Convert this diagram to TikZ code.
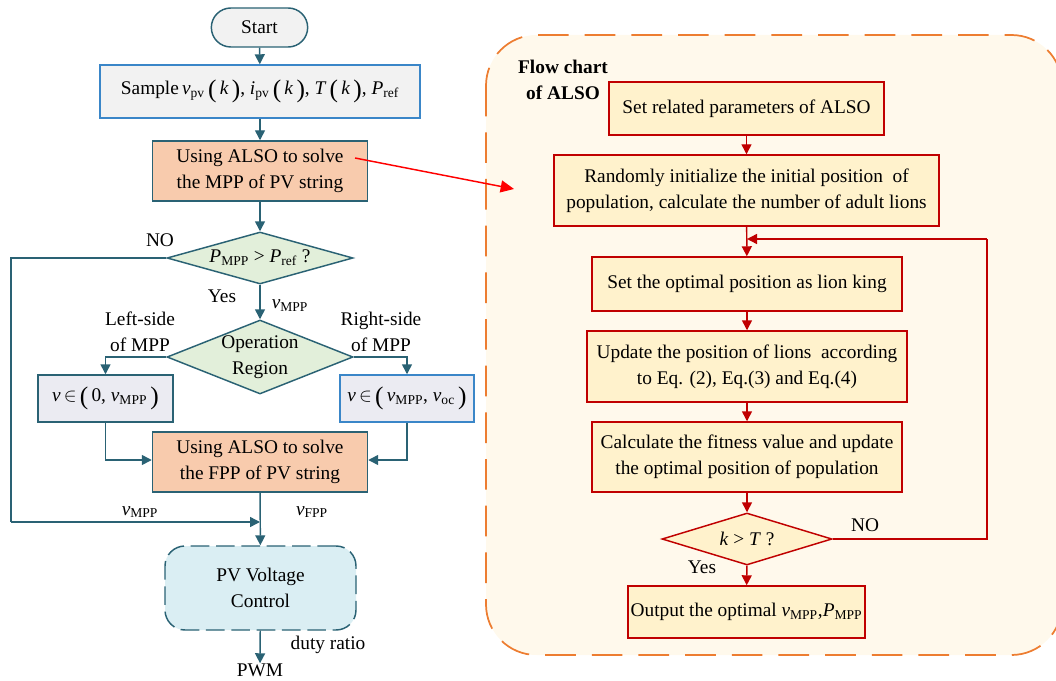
\documentclass[tikz,border=0pt]{standalone}
\usepackage{fontspec}
\setmainfont{Liberation Serif}
\usetikzlibrary{shapes.geometric,shapes.misc,arrows.meta}
\definecolor{teal1}{HTML}{2A6274}
\definecolor{blue1}{HTML}{3A86C8}
\definecolor{gray1}{HTML}{F2F2F2}
\definecolor{orange1}{HTML}{F8CBAD}
\definecolor{green1}{HTML}{E2EFDA}
\definecolor{lav1}{HTML}{EBEBF2}
\definecolor{cyan1}{HTML}{DAEEF3}
\definecolor{red1}{HTML}{C00000}
\definecolor{yel1}{HTML}{FFF2CC}
\definecolor{cream1}{HTML}{FFF9EC}
\definecolor{org2}{HTML}{ED7D31}
\newcommand{\vs}[2]{\textit{#1}\textsubscript{#2}}
\newcommand{\bigpar}[1]{\raisebox{-2.2pt}{\fontsize{19}{19}\selectfont(}\,#1\,\raisebox{-2.2pt}{\fontsize{19}{19}\selectfont)}}
\tikzset{
  every node/.style={font=\fontsize{14.5}{19.5}\selectfont, align=center},
  tbox/.style={draw=teal1, line width=1.1pt, inner sep=1pt},
  rbox/.style={draw=red1, fill=yel1, line width=1.1pt, inner sep=1pt},
  tarr/.style={draw=teal1, line width=1.1pt, -{Triangle[length=7.5pt,width=7.5pt]}},
  tline/.style={draw=teal1, line width=1.1pt},
  rarr/.style={draw=red1, line width=1.1pt, -{Triangle[length=7.5pt,width=7.5pt]}},
  rline/.style={draw=red1, line width=1.1pt},
  lbl/.style={inner sep=0pt},
}
\begin{document}
\begin{tikzpicture}[x=0.75pt,y=-0.75pt]
\useasboundingbox (0,0) rectangle (1056,681);
% container
\begin{scope}
\clip (0,0) rectangle (1056,681);
\draw[draw=org2, fill=cream1, line width=1.3pt, dash pattern=on 23pt off 12pt, rounded corners=38pt] (486,35) rectangle (1062,655);
\end{scope}
\node[lbl, font=\bfseries\fontsize{14.5}{19.5}\selectfont] (title) at (563,80) {Flow chart\\of ALSO};

% left chart
\node[tbox, fill=gray1, rounded rectangle, minimum width=74.25pt, minimum height=29.25pt] (start) at (259.5,27.5) {Start};
\node[draw=blue1, line width=1.1pt, fill=gray1, minimum width=240pt, minimum height=39.75pt, inner sep=1pt] (sample) at (260,91.5)
  {Sample\,\vs{v}{pv}\,\bigpar{\textit{k}}, \vs{i}{pv}\,\bigpar{\textit{k}}, \textit{T}\,\bigpar{\textit{k}}, \vs{P}{ref}};
\node[tbox, fill=orange1, minimum width=161.25pt, minimum height=45pt] (mpp) at (260,171) {Using ALSO to solve\\the MPP of PV string};
\node[tbox, fill=green1, diamond, aspect=3.58, inner sep=0pt, minimum width=139.5pt, minimum height=39pt] (d1) at (260,258) {\vs{P}{MPP} > \vs{P}{ref} ?};
\node[tbox, fill=green1, diamond, aspect=2.5, inner sep=0pt, minimum width=139.5pt, minimum height=55.5pt] (d2) at (260,357) {Operation\\Region};
\node[tbox, fill=lav1, minimum width=101.25pt, minimum height=35.25pt] (lb) at (105.5,398.5) {\textit{v}\,$\in$\,\bigpar{0, \vs{v}{MPP}}};
\node[draw=blue1, line width=1.1pt, fill=lav1, minimum width=100.5pt, minimum height=35.25pt, inner sep=1pt] (rb) at (407,398.5) {\textit{v}\,$\in$\,\bigpar{\vs{v}{MPP}, \vs{v}{oc}}};
\node[tbox, fill=orange1, minimum width=161.25pt, minimum height=45pt] (fpp) at (260,462) {Using ALSO to solve\\the FPP of PV string};
\node[draw=teal1, line width=1.1pt, fill=cyan1, dash pattern=on 14pt off 5pt, rounded corners=15pt, minimum width=143.25pt, minimum height=63pt] (pvc) at (260.5,588) {PV Voltage\\Control};
\node[lbl] (pwm) at (260,670) {PWM};
\coordinate (join) at (260,522);
\coordinate (nocorner1) at (11,258);
\coordinate (nocorner2) at (11,522);

\draw[tarr] (start) -- (sample);
\draw[tarr] (sample) -- (mpp);
\draw[tarr] (mpp) -- (d1);
\draw[tarr] (d1) -- (d2);
\draw[tarr] (d2.west) -| (lb.north);
\draw[tarr] (d2.east) -| (rb.north);
\draw[tarr] (lb.south) |- (fpp.west |- 0,460);
\draw[tarr] (rb.south) |- (fpp.east |- 0,460);
\draw[tline] (d1.west) -- (nocorner1) -- (nocorner2);
\draw[tarr] (nocorner2) -- (join);
\draw[tarr] (fpp) -- (pvc);
\draw[tarr] (pvc) -- (pwm);

\node[lbl] at (160,240) {NO};
\node[lbl] at (222,296) {Yes};
\node[lbl] at (290,306) {\vs{v}{MPP}};
\node[lbl] at (140,332) {Left-side\\of MPP};
\node[lbl] at (381,332) {Right-side\\of MPP};
\node[lbl] at (140,512) {\vs{v}{MPP}};
\node[lbl] at (312,512) {\vs{v}{FPP}};
\node[lbl] at (328,645) {duty ratio};

% right chart
\node[rbox, minimum width=206.25pt, minimum height=39.75pt] (b1) at (746.5,108.5) {Set related parameters of ALSO};
\node[rbox, minimum width=288.75pt, minimum height=53.25pt] (b2) at (746.5,190.5) {Randomly initialize the initial position\ \ of\\population, calculate the number of adult lions};
\node[rbox, minimum width=232.5pt, minimum height=40.5pt] (b3) at (747,284) {Set the optimal position as lion king};
\node[rbox, minimum width=240pt, minimum height=53.25pt] (b4) at (747,366.5) {Update the position of lions\ \ according\\to Eq. (2), Eq.(3) and Eq.(4)};
\node[rbox, minimum width=232.5pt, minimum height=52.5pt] (b5) at (747,457) {Calculate the fitness value and update\\the optimal position of population};
\node[rbox, diamond, aspect=3.27, inner sep=0pt, minimum width=127.5pt, minimum height=39pt] (d3) at (747,539) {\textit{k} > \textit{T} ?};
\node[rbox, minimum width=177.75pt, minimum height=39pt] (out) at (746.5,612) {Output the optimal \vs{v}{MPP},\vs{P}{MPP}};
\coordinate (loopin) at (747,239);
\coordinate (loopr1) at (987,539);
\coordinate (loopr2) at (987,239);

\draw[rarr] (b1) -- (b2);
\draw[rarr] (b2) -- (b3);
\draw[rarr] (b3) -- (b4);
\draw[rarr] (b4) -- (b5);
\draw[rarr] (b5) -- (d3);
\draw[rarr] (d3) -- (out);
\draw[rline] (d3.east) -- (loopr1) -- (loopr2);
\draw[rarr] (loopr2) -- (loopin);
\node[lbl] at (865,525) {NO};
\node[lbl] at (702,567) {Yes};

% red link
\coordinate (linkend) at (514,189);
\draw[draw=red, line width=1.1pt, -{Triangle[length=10pt,width=9pt]}] (355,158) -- (linkend);
\end{tikzpicture}
\end{document}
